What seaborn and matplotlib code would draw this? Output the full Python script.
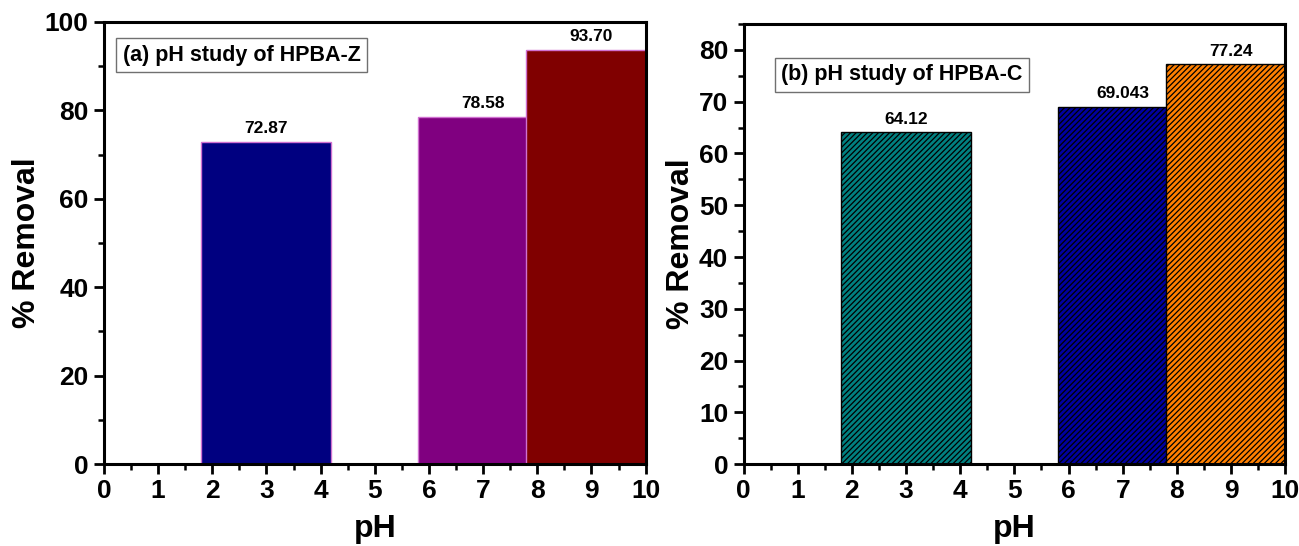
import numpy as np
import pandas as pd
import seaborn as sns
import matplotlib.pyplot as plt
from matplotlib.ticker import MultipleLocator, AutoMinorLocator

# 数据
ph_values = [3, 7, 9]
removal_z = [72.87, 78.58, 93.70]
removal_c = [64.12, 69.043, 77.24]
labels_z = ['72.87', '78.58', '93.70']
labels_c = ['64.12', '69.043', '77.24']
colors_z = ['#000080', '#800080', '#800000']
colors_c = ['#008080', '#0000A0', '#FF8000']
titles = ['(a) pH study of HPBA-Z', '(b) pH study of HPBA-C']

sns.set_style('ticks')
plt.rcParams['font.family'] = ['Liberation Sans', 'DejaVu Sans']
plt.rcParams['font.weight'] = 'bold'
plt.rcParams['hatch.linewidth'] = 0.9
for k in ['text.color', 'axes.labelcolor', 'xtick.color', 'ytick.color', 'axes.edgecolor']:
    plt.rcParams[k] = 'black'

fig = plt.figure(figsize=(12.99, 5.46), dpi=100)
ax1 = fig.add_axes([0.080, 0.150, 0.417, 0.810])
ax2 = fig.add_axes([0.5724, 0.150, 0.417, 0.806])


def draw_panel(ax, values, labels, colors, ymax, ystep, hatch, edge):
    df = pd.DataFrame({'pH': ph_values, 'removal': values})
    pal = dict(zip(ph_values, colors))
    sns.barplot(data=df, x='pH', y='removal', hue='pH', palette=pal, legend=False,
                native_scale=True, width=1.2, saturation=1, ax=ax,
                edgecolor=edge, linewidth=1, hatch=hatch)
    # 柱宽 2.4，中心在 pH 处
    for patch, p in zip(ax.patches, ph_values):
        patch.set_x(p - 1.2)
        patch.set_width(2.4)
    for p, v, t in zip(ph_values, values, labels):
        ax.annotate(t, (p, v), xytext=(0, 4), textcoords='offset points',
                    ha='center', va='bottom', fontsize=12.5, fontweight='bold')
    ax.set_xlim(0, 10)
    ax.set_ylim(0, ymax)
    ax.xaxis.set_major_locator(MultipleLocator(1))
    ax.xaxis.set_minor_locator(AutoMinorLocator(2))
    ax.yaxis.set_major_locator(MultipleLocator(ystep))
    ax.yaxis.set_minor_locator(AutoMinorLocator(2))
    ax.tick_params(which='major', direction='out', length=7, width=2, labelsize=19, pad=4)
    ax.tick_params(which='minor', direction='out', length=4, width=1.8)
    for lab in ax.get_xticklabels() + ax.get_yticklabels():
        lab.set_fontweight('bold')
    for sp in ax.spines.values():
        sp.set_linewidth(2.2)
        sp.set_visible(True)
    ax.set_xlabel('pH', fontsize=23, fontweight='bold', labelpad=8)
    ax.set_ylabel('% Removal', fontsize=23, fontweight='bold', labelpad=2)
    return ax


draw_panel(ax1, removal_z, labels_z, colors_z, 100, 20, None, '#d070d0')
draw_panel(ax2, removal_c, labels_c, colors_c, 85, 10, '//////', 'black')

ax1.text(0.035, 0.925, titles[0], transform=ax1.transAxes, fontsize=15.5, fontweight='bold',
         va='center', ha='left',
         bbox=dict(boxstyle='square,pad=0.3', facecolor='white', edgecolor='#707070', linewidth=1))
ax2.text(0.07, 0.885, titles[1], transform=ax2.transAxes, fontsize=15.5, fontweight='bold',
         va='center', ha='left',
         bbox=dict(boxstyle='square,pad=0.3', facecolor='white', edgecolor='#707070', linewidth=1))

plt.savefig('out.png', dpi=100)
plt.close()
